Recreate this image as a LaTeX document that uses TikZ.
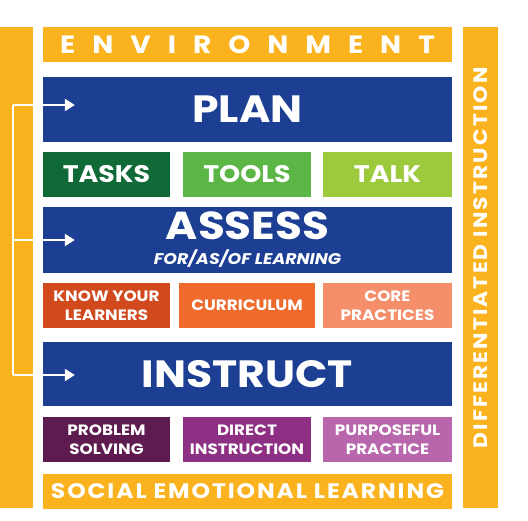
\documentclass[tikz,border=0pt]{standalone}
\usepackage{fontspec}
\setmainfont{Poppins}[FakeStretch=1.12]
\usetikzlibrary{arrows.meta}
\definecolor{envorange}{HTML}{FAB21E}
\definecolor{stageblue}{HTML}{1C3F94}
\definecolor{tasksgreen}{HTML}{0F6A37}
\definecolor{toolsgreen}{HTML}{5BB646}
\definecolor{talkgreen}{HTML}{9DCA3C}
\definecolor{knowred}{HTML}{D14A1D}
\definecolor{curricorange}{HTML}{EE6B2D}
\definecolor{coresalmon}{HTML}{F58E6A}
\definecolor{problempurple}{HTML}{5D1B4F}
\definecolor{directpurple}{HTML}{8D2F83}
\definecolor{practicepurple}{HTML}{B867AC}
\begin{document}
\begin{tikzpicture}[%
  x=1pt, y=-1pt,
  bar/.style={%
    rectangle,
    fill=envorange,
    text=white,
    inner sep=0pt,
    font=\bfseries\fontsize{21}{21}\selectfont\addfontfeature{LetterSpace=9},
  },
  stage/.style={%
    rectangle,
    fill=stageblue,
    text=white,
    inner sep=0pt,
    minimum width=409pt,
    align=center,
  },
  part/.style={%
    rectangle,
    text=white,
    inner sep=0pt,
    minimum height=45pt,
    align=center,
    font=\bfseries\fontsize{15}{19}\selectfont,
  },
  flow/.style={%
    draw=white,
    line width=2.2pt,
    -{Triangle[length=10pt,width=12pt]},
  }
]
  \useasboundingbox (0,0) rectangle (528,521);
  % outer frame
  \fill [envorange] (0,27) rectangle (33,508);
  \node [bar, minimum width=409pt, minimum height=35pt,
    font=\bfseries\fontsize{25}{25}\selectfont\addfontfeature{LetterSpace=68}]
    (env) at (247.5,44.5) {ENVIRONMENT};
  \node [bar, minimum width=409pt, minimum height=35pt] (sel) at (247.5,491.5)
    {SOCIAL EMOTIONAL LEARNING};
  \node [bar, minimum width=35pt, minimum height=481pt] (diffbar) at (480.5,267.5) {};
  \node [text=white, inner sep=0pt, rotate=90,
    font=\bfseries\fontsize{19.5}{19.5}\selectfont\addfontfeature{LetterSpace=11}]
    (diff) at (481,258) {DIFFERENTIATED INSTRUCTION};
  % stages
  \node [stage, minimum height=65pt, font=\bfseries\fontsize{38}{38}\selectfont]
    (plan) at (247.5,109.5) {PLAN};
  \node [stage, minimum height=66pt, font=\bfseries\fontsize{39}{39}\selectfont]
    (assess) at (247.5,240)
    {ASSESS\\[-14pt]
     {\bfseries\itshape\fontsize{15.5}{15.5}\selectfont FOR/AS/OF LEARNING}};
  \node [stage, minimum height=64pt, font=\bfseries\fontsize{38}{38}\selectfont]
    (instruct) at (247.5,374) {INSTRUCT};
  % plan parts
  \node [part, fill=tasksgreen, minimum width=127pt,
    font=\bfseries\fontsize{24}{24}\selectfont] (tasks) at (106.5,174.5) {TASKS};
  \node [part, fill=toolsgreen, minimum width=128pt,
    font=\bfseries\fontsize{24}{24}\selectfont] (tools) at (247,174.5) {TOOLS};
  \node [part, fill=talkgreen, minimum width=129pt,
    font=\bfseries\fontsize{24}{24}\selectfont] (talk) at (387.5,174.5) {TALK};
  % assess parts
  \node [part, fill=knowred, minimum width=127pt] (know) at (106.5,305.5)
    {KNOW YOUR\\LEARNERS};
  \node [part, fill=curricorange, minimum width=136pt] (curric) at (247,305.5)
    {CURRICULUM};
  \node [part, fill=coresalmon, minimum width=129pt] (core) at (387.5,305.5)
    {CORE\\PRACTICES};
  % instruct parts
  \node [part, fill=problempurple, minimum width=127pt] (problem) at (106.5,439.5)
    {PROBLEM\\SOLVING};
  \node [part, fill=directpurple, minimum width=128pt] (direct) at (247,439.5)
    {DIRECT\\INSTRUCTION};
  \node [part, fill=practicepurple, minimum width=129pt] (practice) at (387.5,439.5)
    {PURPOSEFUL\\PRACTICE};
  % feedback rail
  \coordinate (railtop) at (13,105);
  \coordinate (railbot) at (13,375);
  \draw [draw=white, line width=2.2pt] (railtop) -- (railbot);
  \draw [flow] (railtop) -- ([xshift=32pt]railtop -| plan.west);
  \draw [flow] (railtop |- assess.west) -- ([xshift=32pt]assess.west);
  \draw [flow] (railbot) -- ([xshift=32pt]railbot -| instruct.west);
\end{tikzpicture}
\end{document}
